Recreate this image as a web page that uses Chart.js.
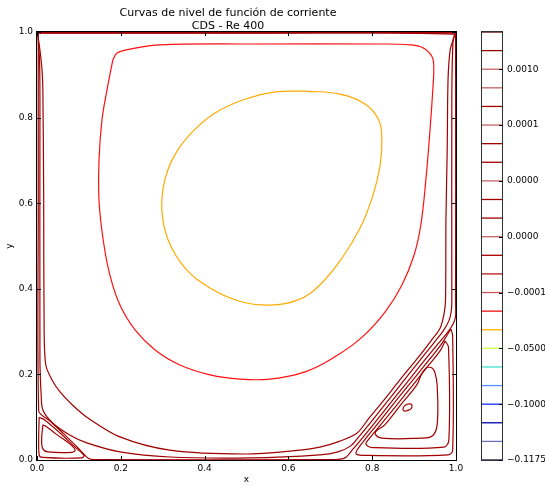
<!DOCTYPE html>
<html>
<head>
<meta charset="utf-8">
<script src="https://cdn.jsdelivr.net/npm/chart.js@4.4.0/dist/chart.umd.min.js"></script>
<style>
  body { margin: 0; background: #fff; }
  #wrap { position: relative; width: 545px; height: 488px; }
  #plot { position: absolute; left: 0; top: 0; }
  #cbar { position: absolute; left: 470px; top: 0; }
</style>
</head>
<body>
<div id="wrap">
  <canvas id="plot" width="545" height="488"></canvas>
  <canvas id="cbar" width="75" height="488"></canvas>
</div>
<script>
// Streamline contours, cavity flow (x, y in [0, 1])
const coreLoop = [[0.640,0.862],[0.723,0.855],[0.783,0.832],[0.816,0.794],[0.823,0.748],[0.819,0.689],[0.802,0.619],[0.771,0.542],[0.728,0.472],[0.675,0.409],[0.623,0.374],[0.556,0.362],[0.484,0.371],[0.413,0.402],[0.353,0.449],[0.313,0.514],[0.298,0.584],[0.305,0.654],[0.329,0.713],[0.370,0.766],[0.425,0.811],[0.496,0.843],[0.568,0.860],[0.640,0.862]];

const outerLoop = [[0.181,0.935],[0.191,0.951],[0.222,0.960],[0.294,0.970],[0.508,0.972],[0.819,0.972],[0.890,0.970],[0.921,0.963],[0.943,0.942],[0.947,0.918],[0.945,0.871],[0.938,0.771],[0.928,0.654],[0.916,0.549],[0.900,0.479],[0.871,0.409],[0.831,0.346],[0.776,0.287],[0.711,0.241],[0.640,0.206],[0.556,0.189],[0.484,0.189],[0.413,0.199],[0.341,0.222],[0.282,0.257],[0.234,0.304],[0.198,0.362],[0.174,0.432],[0.158,0.514],[0.148,0.607],[0.148,0.701],[0.155,0.794],[0.167,0.864],[0.181,0.935]];

// loops that follow the walls around the main vortex
const wallLoopA = [[0.001,0.998],[0.007,0.958],[0.012,0.911],[0.014,0.865],[0.016,0.608],[0.017,0.304],[0.021,0.222],[0.036,0.187],[0.055,0.159],[0.084,0.129],[0.119,0.100],[0.198,0.054],[0.317,0.023],[0.494,0.014],[0.628,0.023],[0.675,0.030],[0.723,0.044],[0.764,0.063],[0.791,0.096],[0.828,0.140],[0.866,0.187],[0.905,0.234],[0.940,0.278],[0.962,0.308],[0.971,0.339],[0.975,0.374],[0.976,0.561],[0.979,0.724],[0.981,0.888],[0.986,0.958],[0.995,0.995],[0.500,0.998],[0.001,0.998]];

const wallLoopB = [[0.002,0.998],[0.006,0.935],[0.007,0.841],[0.007,0.234],[0.010,0.152],[0.014,0.117],[0.038,0.086],[0.079,0.058],[0.119,0.040],[0.198,0.019],[0.317,0.007],[0.508,0.005],[0.675,0.012],[0.718,0.019],[0.749,0.033],[0.768,0.054],[0.795,0.086],[0.833,0.133],[0.871,0.180],[0.909,0.227],[0.945,0.271],[0.969,0.301],[0.983,0.325],[0.989,0.350],[0.990,0.386],[0.990,0.841],[0.993,0.981],[0.998,0.998],[0.500,0.998],[0.002,0.998]];

const separatrix = [[0.003,0.998],[0.003,0.600],[0.004,0.115],[0.031,0.091],[0.067,0.058],[0.103,0.023],[0.122,0.004],[0.138,0.001],[0.711,0.001],[0.735,0.005],[0.752,0.023],[0.773,0.047],[0.802,0.082],[0.840,0.129],[0.878,0.175],[0.916,0.222],[0.955,0.269],[0.979,0.297],[0.993,0.318],[0.999,0.336],[0.999,0.374],[0.999,0.998],[0.500,0.998],[0.003,0.998]];

// bottom-left corner eddy
const eddyLeftOuter = [[0.005,0.100],[0.005,0.012],[0.014,0.006],[0.107,0.005],[0.112,0.011],[0.091,0.030],[0.055,0.063],[0.019,0.093],[0.005,0.100]];
const eddyLeftInner = [[0.014,0.082],[0.011,0.047],[0.014,0.026],[0.026,0.019],[0.084,0.018],[0.091,0.023],[0.079,0.037],[0.045,0.061],[0.021,0.079],[0.014,0.082]];

// bottom-right corner eddy
const eddyRight1 = [[0.988,0.306],[0.992,0.290],[0.992,0.023],[0.981,0.012],[0.776,0.011],[0.761,0.016],[0.782,0.047],[0.811,0.082],[0.849,0.129],[0.887,0.175],[0.926,0.222],[0.964,0.269],[0.979,0.292],[0.988,0.306]];
const eddyRight2 = [[0.974,0.278],[0.982,0.264],[0.983,0.047],[0.971,0.030],[0.800,0.029],[0.785,0.037],[0.792,0.049],[0.820,0.082],[0.859,0.129],[0.897,0.175],[0.935,0.222],[0.962,0.255],[0.974,0.278]];
const eddyRight3 = [[0.931,0.217],[0.943,0.215],[0.950,0.203],[0.955,0.175],[0.955,0.082],[0.943,0.056],[0.914,0.051],[0.823,0.051],[0.807,0.061],[0.812,0.070],[0.830,0.082],[0.868,0.129],[0.906,0.175],[0.919,0.203],[0.931,0.217]];
const eddyRight4 = [[0.873,0.117],[0.876,0.125],[0.883,0.130],[0.891,0.131],[0.895,0.127],[0.893,0.120],[0.885,0.116],[0.878,0.114],[0.873,0.117]];

// colour bar: one line per contour level, labels on every third level
const levelCount = 24;
const cbarTickLevels = [0, 3, 6, 9, 12, 15, 18, 21];
const cbarTickLabels = ['\u22120.1175', '\u22120.1000', '\u22120.0500', '\u22120.0001', '0.0000', '0.0000', '0.0001', '0.0010'];

const levelColors = ['#10103a', '#7070c0', '#0000a8', '#1030ff', '#5090ff', '#40e0d0', '#c8ff50', '#ffb000',
  '#e81010', '#c85858', '#b81818', '#a80000', '#c86464', '#a00000', '#a00000', '#c86464',
  '#a00000', '#a00000', '#c86464', '#a00000', '#c06060', '#c86464', '#a00000', '#500000'];

const DARK = '#a00000';
const contours = [
  { pts: separatrix, color: DARK, tension: 0.3 },
  { pts: wallLoopB, color: DARK, tension: 0.3 },
  { pts: wallLoopA, color: DARK, tension: 0.3 },
  { pts: eddyLeftOuter, color: DARK, tension: 0.35 },
  { pts: eddyLeftInner, color: DARK, tension: 0.35 },
  { pts: eddyRight1, color: DARK, tension: 0.35 },
  { pts: eddyRight2, color: DARK, tension: 0.35 },
  { pts: eddyRight3, color: DARK, tension: 0.4 },
  { pts: eddyRight4, color: DARK, tension: 0.5 },
  { pts: outerLoop, color: '#ff1010', tension: 0.4 },
  { pts: coreLoop, color: '#ffaa00', tension: 0.4 }
];

Chart.defaults.font.family = "'DejaVu Sans', sans-serif";
Chart.defaults.color = '#000';

// frame and inward tick marks on all four sides
const framePlugin = {
  id: 'frame',
  afterDatasetsDraw(chart) {
    const { ctx, chartArea: a, scales } = chart;
    ctx.save();
    ctx.strokeStyle = '#000';
    ctx.lineWidth = 1;
    ctx.strokeRect(a.left - 0.5, a.top - 0.5, a.width + 1, a.height + 1);
    ctx.beginPath();
    scales.x.ticks.forEach(t => {
      const px = Math.round(scales.x.getPixelForValue(t.value)) + 0.5;
      ctx.moveTo(px, a.bottom); ctx.lineTo(px, a.bottom - 4);
      ctx.moveTo(px, a.top); ctx.lineTo(px, a.top + 4);
    });
    scales.y.ticks.forEach(t => {
      const py = Math.round(scales.y.getPixelForValue(t.value)) + 0.5;
      ctx.moveTo(a.left, py); ctx.lineTo(a.left + 4, py);
      ctx.moveTo(a.right, py); ctx.lineTo(a.right - 4, py);
    });
    ctx.stroke();
    ctx.restore();
  }
};

new Chart(document.getElementById('plot'), {
  type: 'scatter',
  data: {
    datasets: contours.map(c => ({
      data: c.pts.map(p => ({ x: p[0], y: p[1] })),
      showLine: true,
      borderColor: c.color,
      borderWidth: 1.2,
      pointRadius: 0,
      tension: c.tension,
      fill: false
    }))
  },
  options: {
    responsive: false,
    animation: false,
    layout: { padding: { right: 89 } },
    plugins: {
      legend: { display: false },
      tooltip: { enabled: false },
      title: {
        display: true,
        text: ['Curvas de nivel de función de corriente', 'CDS - Re 400'],
        font: { size: 11, weight: 'normal', lineHeight: 1.1 },
        color: '#000',
        padding: { top: 7.5, bottom: 0.3 }
      }
    },
    scales: {
      x: {
        type: 'linear', min: 0, max: 1,
        ticks: { stepSize: 0.2, callback: v => v.toFixed(1), font: { size: 9 }, padding: 3, maxRotation: 0 },
        grid: { display: false, drawTicks: false },
        border: { display: false },
        title: { display: true, text: 'x', font: { size: 9 }, padding: { top: 0, bottom: 2.6 } },
        afterFit: s => { s.height = 28; }
      },
      y: {
        type: 'linear', min: 0, max: 1,
        ticks: { stepSize: 0.2, callback: v => v.toFixed(1), font: { size: 9 }, padding: 4 },
        grid: { display: false, drawTicks: false },
        border: { display: false },
        title: { display: true, text: 'y', font: { size: 9 }, padding: { top: 4.6, bottom: 0 } },
        afterFit: s => { s.width = 37; }
      }
    }
  },
  plugins: [framePlugin]
});

// colour bar outline and its tick marks
const cbarFrame = {
  id: 'cbarFrame',
  afterDatasetsDraw(chart) {
    const { ctx, chartArea: a, scales } = chart;
    ctx.save();
    ctx.strokeStyle = '#333';
    ctx.lineWidth = 1;
    ctx.strokeRect(a.left - 0.5, a.top - 0.5, a.width + 1, a.height + 1);
    ctx.strokeStyle = '#000';
    ctx.beginPath();
    scales.y.ticks.forEach(t => {
      const py = Math.round(scales.y.getPixelForValue(t.value)) + 0.5;
      ctx.moveTo(a.right, py); ctx.lineTo(a.right - 3, py);
    });
    ctx.stroke();
    ctx.restore();
  }
};

new Chart(document.getElementById('cbar'), {
  type: 'scatter',
  data: {
    datasets: levelColors.slice(0, levelCount).map((c, i) => ({
      data: [{ x: 0, y: i }, { x: 1, y: i }],
      showLine: true,
      borderColor: c,
      borderWidth: 1.3,
      pointRadius: 0
    }))
  },
  options: {
    responsive: false,
    animation: false,
    layout: { padding: { left: 12, top: 32, bottom: 28 } },
    plugins: { legend: { display: false }, tooltip: { enabled: false } },
    scales: {
      x: { type: 'linear', min: 0, max: 1, display: false },
      y: {
        type: 'linear', position: 'right', min: 0, max: levelCount - 1,
        afterBuildTicks: s => { s.ticks = cbarTickLevels.map(v => ({ value: v })); },
        ticks: { autoSkip: false, callback: (v, i) => cbarTickLabels[i], font: { size: 9 }, padding: 5 },
        grid: { display: false, drawTicks: false },
        border: { display: false },
        afterFit: s => { s.width = 43; }
      }
    }
  },
  plugins: [cbarFrame]
});
</script>
</body>
</html>
